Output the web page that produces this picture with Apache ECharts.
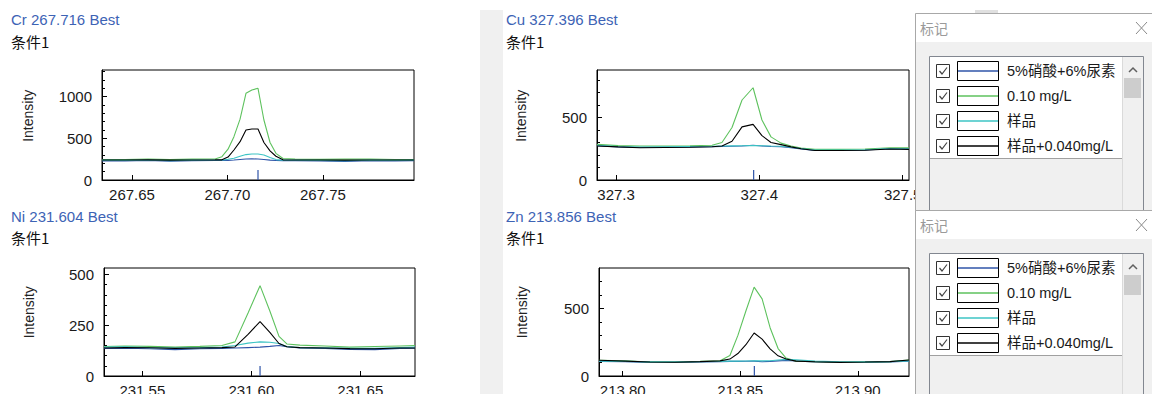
<!DOCTYPE html>
<html><head><meta charset="utf-8">
<script src="https://cdn.jsdelivr.net/npm/echarts@6/dist/echarts.min.js"></script>
<style>html,body{margin:0;padding:0;background:#fff;overflow:hidden;}#c{width:1152px;height:394px;}</style>
</head><body><div id="c"></div>
<script>
// ---------- data ----------
const seriesNames = ['5%硝酸+6%尿素', '0.10 mg/L', '样品', '样品+0.040mg/L'];
const panelTitles = ['Cr 267.716 Best', 'Cu 327.396 Best', 'Ni 231.604 Best', 'Zn 213.856 Best'];
const conditionLabel = '条件1';
const axisName = 'Intensity';
const dialogTitle = '标记';
const markerWavelengths = [267.716, 327.396, 231.604, 213.856];

const crWavelength = [267.6343, 267.6463, 267.6584, 267.6699, 267.6814, 267.6935, 267.6971, 267.7003, 267.7034, 267.7066, 267.7097, 267.7128, 267.7160, 267.7191, 267.7223, 267.7254, 267.7291, 267.7354, 267.7484, 267.7615, 267.7746, 267.7877, 267.7977];
const crBlank   = [230, 230, 234, 226, 232, 234, 234, 236, 240, 246, 252, 254, 252, 246, 238, 234, 232, 232, 230, 224, 232, 230, 232];
const crStd     = [245, 245, 252, 244, 250, 252, 280, 370, 520, 730, 1040, 1080, 1100, 720, 450, 320, 258, 250, 248, 250, 252, 246, 246];
const crSample  = [238, 236, 240, 232, 238, 240, 240, 248, 262, 285, 305, 312, 312, 300, 270, 245, 238, 238, 236, 232, 238, 236, 238];
const crSpiked  = [240, 240, 242, 238, 240, 241, 242, 275, 360, 460, 600, 612, 612, 450, 350, 285, 242, 240, 240, 238, 240, 240, 240];
const crXTicks = [267.65, 267.70, 267.75];
const crYTicks = [0, 500, 1000];
const crYMinorTicks = [0, 100, 200, 300, 400, 500, 600, 700, 800, 900, 1000, 1100, 1200, 1300];

const cuWavelength = [327.2867, 327.3014, 327.3167, 327.3342, 327.3516, 327.3670, 327.3739, 327.3809, 327.3879, 327.3956, 327.4018, 327.4081, 327.4151, 327.4221, 327.4291, 327.4388, 327.4563, 327.4737, 327.4912, 327.5044];
const cuBlank   = [274, 264, 260, 262, 264, 266, 268, 270, 272, 278, 272, 268, 266, 258, 248, 237, 237, 240, 250, 247];
const cuStd     = [285, 275, 272, 272, 274, 278, 300, 420, 640, 738, 480, 345, 295, 272, 255, 245, 245, 248, 258, 258];
const cuSample  = [278, 268, 264, 266, 268, 270, 272, 273, 274, 276, 274, 272, 270, 262, 252, 240, 240, 242, 252, 250];
const cuSpiked  = [272, 265, 258, 260, 262, 266, 272, 310, 425, 445, 355, 300, 283, 265, 250, 236, 236, 238, 248, 245];
const cuXTicks = [327.3, 327.4, 327.5];
const cuYTicks = [0, 500];
const cuYMinorTicks = [0, 100, 200, 300, 400, 500, 600, 700, 800];

const niWavelength = [231.5324, 231.5420, 231.5535, 231.5650, 231.5764, 231.5865, 231.5925, 231.5985, 231.6040, 231.6085, 231.6127, 231.6163, 231.6223, 231.6338, 231.6452, 231.6567, 231.6682, 231.6751];
const niBlank   = [136, 137, 134, 130, 134, 136, 138, 140, 142, 146, 150, 144, 138, 136, 131, 130, 136, 137];
const niStd     = [145, 148, 146, 142, 146, 150, 168, 310, 445, 320, 195, 158, 152, 148, 142, 145, 148, 150];
const niSample  = [142, 144, 140, 138, 140, 143, 150, 162, 168, 166, 160, 145, 140, 139, 136, 136, 140, 142];
const niSpiked  = [138, 140, 139, 136, 138, 140, 143, 205, 268, 215, 160, 144, 140, 138, 135, 134, 138, 138];
const niXTicks = [231.55, 231.60, 231.65];
const niYTicks = [0, 250, 500];
const niYMinorTicks = [0, 50, 100, 150, 200, 250, 300, 350, 400, 450, 500];

const znWavelength = [213.7899, 213.8010, 213.8116, 213.8222, 213.8329, 213.8414, 213.8456, 213.8490, 213.8524, 213.8559, 213.8593, 213.8627, 213.8661, 213.8695, 213.8737, 213.8818, 213.8924, 213.9031, 213.9137, 213.9218];
const znBlank   = [108, 106, 100, 100, 104, 106, 108, 108, 109, 110, 105, 108, 112, 114, 112, 104, 100, 100, 104, 110];
const znStd     = [116, 112, 104, 103, 108, 113, 152, 300, 480, 657, 570, 357, 203, 132, 110, 106, 102, 104, 106, 118];
const znSample  = [110, 108, 104, 104, 106, 108, 110, 110, 111, 112, 112, 113, 118, 123, 120, 110, 105, 104, 106, 112];
const znSpiked  = [116, 110, 103, 102, 106, 112, 125, 166, 231, 318, 272, 201, 149, 125, 110, 105, 101, 103, 106, 118];
const znXTicks = [213.80, 213.85, 213.90];
const znYTicks = [0, 500];
const znYMinorTicks = [0, 100, 200, 300, 400, 500, 600, 700];

// ---------- layout / style ----------
const FONT = "'Liberation Sans', Arial, 'Noto Sans CJK SC', sans-serif";
const CJK = "'Noto Sans CJK SC', 'Liberation Sans', sans-serif";
const colors = ['#2f54a8', '#5ec25e', '#3cc4c4', '#000000'];
const panels = [
  {title: panelTitles[0], wl: crWavelength, ys: [crBlank, crStd, crSample, crSpiked], xTicks: crXTicks, yTicks: crYTicks, yMinor: crYMinorTicks, marker: markerWavelengths[0],
   grid: {left: 102, top: 70, width: 312, height: 110}, xMin: 267.6343, xMax: 267.7977, yMax: 1320, dec: 2, lm: 7, tx: 11, ty: 19.5, cy: 41.7, ix: 27.5, iy: 115.8},
  {title: panelTitles[1], wl: cuWavelength, ys: [cuBlank, cuStd, cuSample, cuSpiked], xTicks: cuXTicks, yTicks: cuYTicks, yMinor: cuYMinorTicks, marker: markerWavelengths[1],
   grid: {left: 597, top: 70, width: 312, height: 110}, xMin: 327.2867, xMax: 327.5044, yMax: 880, dec: 1, lm: 7, tx: 506, ty: 19.5, cy: 41.7, ix: 521, iy: 115.8},
  {title: panelTitles[2], wl: niWavelength, ys: [niBlank, niStd, niSample, niSpiked], xTicks: niXTicks, yTicks: niYTicks, yMinor: niYMinorTicks, marker: markerWavelengths[2],
   grid: {left: 104, top: 268, width: 311, height: 108}, xMin: 231.5324, xMax: 231.6751, yMax: 532, dec: 2, lm: 7, tx: 11, ty: 216, cy: 237.5, ix: 28.5, iy: 312.3},
  {title: panelTitles[3], wl: znWavelength, ys: [znBlank, znStd, znSample, znSpiked], xTicks: znXTicks, yTicks: znYTicks, yMinor: znYMinorTicks, marker: markerWavelengths[3],
   grid: {left: 599, top: 268, width: 310, height: 108}, xMin: 213.7899, xMax: 213.9218, yMax: 798, dec: 2, lm: 7, tx: 506, ty: 216, cy: 237.5, ix: 522, iy: 312.3}
];

const grids = [], xAxes = [], yAxes = [], series = [], graphics = [];

// background pieces
graphics.push({type: 'rect', z: 0, shape: {x: 480, y: 10, width: 23, height: 384}, style: {fill: '#f0f0f0'}, silent: true});
graphics.push({type: 'rect', z: 0, shape: {x: 975, y: 10, width: 23, height: 3}, style: {fill: '#e0e0e0'}, silent: true});

panels.forEach((p, i) => {
  grids.push(Object.assign({show: true, borderColor: '#000', borderWidth: 1, backgroundColor: 'transparent', containLabel: false, outerBoundsMode: 'none'}, p.grid));
  xAxes.push({
    type: 'value', gridIndex: i, min: p.xMin, max: p.xMax,
    axisLine: {show: true, onZero: false, lineStyle: {color: '#000', width: 1}},
    axisTick: {show: true, inside: true, length: 5, customValues: p.xTicks, lineStyle: {color: '#000'}},
    axisLabel: {customValues: p.xTicks, formatter: v => Number(v).toFixed(p.dec), margin: p.lm, fontSize: 15, color: '#1a1a1a', fontFamily: FONT},
    splitLine: {show: false}
  });
  yAxes.push({
    type: 'value', gridIndex: i, min: 0, max: p.yMax, position: 'left',
    axisLine: {show: true, lineStyle: {color: '#000', width: 1}},
    axisTick: {show: true, inside: true, length: 5, customValues: p.yTicks, lineStyle: {color: '#000'}},
    axisLabel: {customValues: p.yTicks, formatter: v => String(Math.round(v)), margin: 10, fontSize: 15, color: '#1a1a1a', fontFamily: FONT},
    splitLine: {show: false}
  });
  yAxes.push({
    type: 'value', gridIndex: i, min: 0, max: p.yMax, position: 'left', offset: 0,
    axisLine: {show: false},
    axisTick: {show: true, inside: true, length: 3, customValues: p.yMinor, lineStyle: {color: '#000'}},
    axisLabel: {show: false},
    splitLine: {show: false}
  });
  p.ys.forEach((vals, s) => {
    series.push({
      type: 'line', name: seriesNames[s], xAxisIndex: i, yAxisIndex: 2 * i,
      data: p.wl.map((x, k) => [x, vals[k]]),
      symbol: 'none', showSymbol: false, silent: true, animation: false,
      lineStyle: {color: colors[s], width: 1.1}, itemStyle: {color: colors[s]}, z: 2 + s
    });
  });
  // wavelength marker (short line rising from the baseline)
  series.push({
    type: 'line', name: 'marker', xAxisIndex: i, yAxisIndex: 2 * i,
    data: [[p.marker, 0], [p.marker, p.yMax * 10 / p.grid.height]],
    symbol: 'none', silent: true, animation: false,
    lineStyle: {color: '#2f54a8', width: 1.2}, z: 6
  });
  graphics.push({type: 'text', z: 10, x: p.tx, y: p.ty, silent: true,
    style: {text: p.title, fill: '#3d63b5', fontSize: 15, fontFamily: FONT, verticalAlign: 'middle', align: 'left'}});
  graphics.push({type: 'text', z: 10, x: p.tx, y: p.cy, silent: true,
    style: {text: conditionLabel, fill: '#111', fontSize: 15, fontFamily: CJK, verticalAlign: 'middle', align: 'left'}});
  graphics.push({type: 'text', z: 10, x: p.ix, y: p.iy, rotation: Math.PI / 2, silent: true,
    style: {text: axisName, fill: '#222', fontSize: 14, fontFamily: FONT, verticalAlign: 'middle', align: 'center'}});
});

// legend dialogs
function dialog(top, z, h) {
  const el = [];
  const add = o => { o.z = z; o.silent = true; el.push(o); };
  add({type: 'rect', shape: {x: 915.5, y: top + 0.5, width: 240, height: h}, style: {fill: '#f0f0f0', stroke: '#a8a8a8', lineWidth: 1}});
  add({type: 'rect', shape: {x: 916, y: top + 1, width: 236, height: 28}, style: {fill: '#ffffff'}});
  add({type: 'text', x: 920, y: top + 15, style: {text: dialogTitle, fill: '#9a9a9a', fontSize: 14, fontFamily: CJK, verticalAlign: 'middle', align: 'left'}});
  add({type: 'line', shape: {x1: 1136, y1: top + 9, x2: 1147, y2: top + 21}, style: {stroke: '#8a8a8a', lineWidth: 1}});
  add({type: 'line', shape: {x1: 1136, y1: top + 21, x2: 1147, y2: top + 9}, style: {stroke: '#8a8a8a', lineWidth: 1}});
  add({type: 'rect', shape: {x: 929.5, y: top + 43.5, width: 214, height: h - 44}, style: {fill: '#f0f0f0', stroke: '#828790', lineWidth: 1}});
  add({type: 'rect', shape: {x: 930, y: top + 44, width: 192, height: 101}, style: {fill: '#ffffff'}});
  add({type: 'line', shape: {x1: 930, y1: top + 145.5, x2: 1122, y2: top + 145.5}, style: {stroke: '#a0a0a0', lineWidth: 1}});
  add({type: 'line', shape: {x1: 1122.5, y1: top + 44, x2: 1122.5, y2: top + h}, style: {stroke: '#dadada', lineWidth: 1}});
  add({type: 'rect', shape: {x: 1124, y: top + 65, width: 17, height: 20}, style: {fill: '#cdcdcd'}});
  add({type: 'polyline', shape: {points: [[1129, top + 59], [1133, top + 55], [1137, top + 59]]}, style: {stroke: '#606060', lineWidth: 1.5, fill: null}});
  seriesNames.forEach((name, k) => {
    const cy = top + 58 + k * 25;
    add({type: 'rect', shape: {x: 936.5, y: cy - 6.5, width: 13, height: 13}, style: {fill: '#ffffff', stroke: '#333', lineWidth: 1}});
    add({type: 'polyline', shape: {points: [[939.5, cy], [942, cy + 3], [947, cy - 3.5]]}, style: {stroke: '#444', lineWidth: 1.2, fill: null}});
    add({type: 'rect', shape: {x: 957.5, y: cy - 9.5, width: 41, height: 19}, style: {fill: '#ffffff', stroke: '#000', lineWidth: 1}});
    add({type: 'line', shape: {x1: 958, y1: cy, x2: 998, y2: cy}, style: {stroke: colors[k], lineWidth: 1.5}});
    add({type: 'text', x: 1007, y: cy, style: {text: name, fill: '#1a1a1a', fontSize: 14.5, fontFamily: FONT, verticalAlign: 'middle', align: 'left'}});
  });
  return el;
}
graphics.push(...dialog(13, 100, 381));
graphics.push(...dialog(210, 120, 190));

const chart = echarts.init(document.getElementById('c'), null, {renderer: 'svg', width: 1152, height: 394});
chart.setOption({
  animation: false,
  backgroundColor: '#ffffff',
  grid: grids, xAxis: xAxes, yAxis: yAxes, series: series,
  graphic: {elements: graphics}
});
</script></body></html>
